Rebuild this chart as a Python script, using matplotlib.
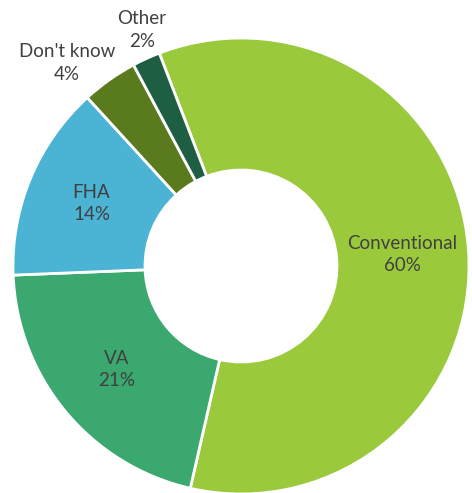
import numpy as np
import matplotlib.pyplot as plt

# loan types and their shares (percent)
labels = ["Conventional", "VA", "FHA", "Don't know", "Other"]
shares = [60, 21, 14, 4, 2]
colors = ["#9aca3c", "#3aa86f", "#4bb3d3", "#5a7a1e", "#1e5e42"]

plt.rcParams['font.family'] = ['Lato', 'DejaVu Sans']

fig = plt.figure(figsize=(4.72, 4.93), dpi=100)
ax = fig.add_axes([0, 0, 1, 1])

cx, cy = 241, 227
r_out, r_in = 228, 96

wedges, _ = ax.pie(shares, colors=colors, startangle=111, counterclock=False,
                   radius=r_out, center=(cx, cy), frame=True,
                   wedgeprops=dict(width=r_out - r_in, edgecolor='white', linewidth=2))
ax.set_xlim(0, 472)
ax.set_ylim(0, 493)
ax.set_aspect('equal')
ax.axis('off')

# inside labels sit on the middle of the ring; small slices get labels outside
outside = {"Don't know": (67, 430), "Other": (142, 463)}
r_mid = (r_out + r_in) / 2
for w, lab, val in zip(wedges, labels, shares):
    text = f"{lab}\n{val}%"
    if lab in outside:
        x, y = outside[lab]
    else:
        ang = np.deg2rad((w.theta1 + w.theta2) / 2)
        x = cx + r_mid * np.cos(ang)
        y = cy + r_mid * np.sin(ang)
    ax.text(x, y, text, ha='center', va='center', fontsize=13.5,
            color='#404040', linespacing=1.4)

plt.savefig('out.png', dpi=100)
